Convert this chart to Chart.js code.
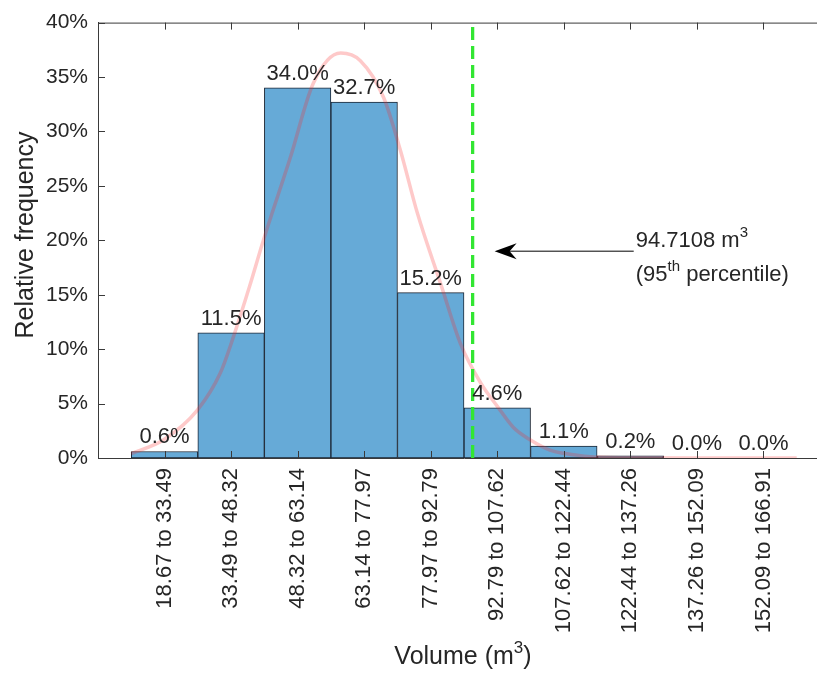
<!DOCTYPE html>
<html>
<head>
<meta charset="utf-8">
<script src="https://cdn.jsdelivr.net/npm/chart.js@4.4.1/dist/chart.umd.min.js"></script>
<style>
  html, body { margin: 0; padding: 0; background: #fff; }
  #wrap { width: 817px; height: 673px; overflow: hidden; position: relative; }
  #box { width: 850px; height: 673px; }
</style>
</head>
<body>
<div id="wrap"><div id="box"><canvas id="chart" width="850" height="673"></canvas></div></div>
<script>
// histogram bins (m3)
const binEdges = [18.67, 33.49, 48.32, 63.14, 77.97, 92.79, 107.62, 122.44, 137.26, 152.09, 166.91];
const binLabels = [
  "18.67 to 33.49", "33.49 to 48.32", "48.32 to 63.14", "63.14 to 77.97", "77.97 to 92.79",
  "92.79 to 107.62", "107.62 to 122.44", "122.44 to 137.26", "137.26 to 152.09", "152.09 to 166.91"
];
const relFreq = [0.6, 11.5, 34.0, 32.7, 15.2, 4.6, 1.1, 0.2, 0.0, 0.0];

// fitted curve (volume, %)
const fitX = [18.67, 25.8, 33.4, 38.5, 41.4, 45.2, 48.1, 54.1, 59.2, 65.3, 69.7, 74.9, 78.6, 82.4, 87.6, 92.0, 96.5, 100.3, 103.8, 107.6, 112.1, 117.2, 121.7, 132.1, 145.5, 166.91];
const fitY = [0.4, 1.65, 4.4, 7.8, 11.1, 16.0, 20.0, 27.6, 34.4, 37.2, 36.5, 33.1, 28.3, 22.5, 16.0, 10.5, 6.9, 4.7, 2.8, 1.65, 0.7, 0.3, 0.1, 0.02, 0.0, 0.0];

const yTicks = [0, 5, 10, 15, 20, 25, 30, 35, 40];
const percentile95 = 94.7108;

const FONT = "'Liberation Sans', Arial, sans-serif";
const TEXT = "#262626";
const AXIS = "#3a3a3a";

const binWidth = (binEdges[binEdges.length - 1] - binEdges[0]) / relFreq.length;
const centers = relFreq.map((_, i) => (binEdges[i] + binEdges[i + 1]) / 2);
const xMin = centers[0] - binWidth;
const xMax = centers[centers.length - 1] + binWidth;

function drawSup(ctx, parts, x, y) {
  // parts: [text, isSup]
  let cx = x;
  parts.forEach(([t, sup]) => {
    ctx.font = (sup ? "15px " : "22px ") + FONT;
    ctx.fillText(t, cx, sup ? y - 10 : y);
    cx += ctx.measureText(t).width;
  });
  return cx;
}

const extras = {
  id: "extras",
  afterDraw(chart) {
    const { ctx, chartArea: a, scales: { x, y } } = chart;
    ctx.save();

    // box + inward ticks
    ctx.strokeStyle = AXIS;
    ctx.lineWidth = 1;
    ctx.beginPath();
    ctx.moveTo(a.left, a.top + 0.5); ctx.lineTo(a.right, a.top + 0.5);
    ctx.moveTo(a.right - 0.5, a.top); ctx.lineTo(a.right - 0.5, a.bottom);
    x.ticks.forEach(t => {
      const px = Math.round(x.getPixelForValue(t.value)) + 0.5;
      ctx.moveTo(px, a.bottom); ctx.lineTo(px, a.bottom - 7);
      ctx.moveTo(px, a.top); ctx.lineTo(px, a.top + 7);
    });
    y.ticks.forEach(t => {
      const py = Math.round(y.getPixelForValue(t.value)) + 0.5;
      ctx.moveTo(a.left, py); ctx.lineTo(a.left + 7, py);
      ctx.moveTo(a.right, py); ctx.lineTo(a.right - 7, py);
    });
    ctx.stroke();

    // bar value labels
    ctx.fillStyle = TEXT;
    ctx.font = "22px " + FONT;
    ctx.textAlign = "center";
    ctx.textBaseline = "alphabetic";
    chart.getDatasetMeta(0).data.forEach((el, i) => {
      ctx.fillText(relFreq[i].toFixed(1) + "%", el.x, el.y - 8);
    });

    // arrow annotation
    const ay = y.getPixelForValue(19.0);
    const tipX = x.getPixelForValue(percentile95) + 22;
    const tailX = x.getPixelForValue(130.6);
    ctx.strokeStyle = "#000";
    ctx.fillStyle = "#000";
    ctx.beginPath();
    ctx.moveTo(tailX, ay); ctx.lineTo(tipX + 10, ay);
    ctx.stroke();
    ctx.beginPath();
    ctx.moveTo(tipX, ay);
    ctx.lineTo(tipX + 22, ay - 8);
    ctx.lineTo(tipX + 15, ay);
    ctx.lineTo(tipX + 22, ay + 8);
    ctx.closePath();
    ctx.fill();

    ctx.fillStyle = TEXT;
    ctx.textAlign = "left";
    const tx = tailX + 2;
    drawSup(ctx, [["94.7108 m", false], ["3", true]], tx, ay - 4);
    drawSup(ctx, [["(95", false], ["th", true], [" percentile)", false]], tx, ay + 30);

    // axis titles
    ctx.font = "25px " + FONT;
    ctx.textAlign = "center";
    ctx.save();
    ctx.translate(33, 235);
    ctx.rotate(-Math.PI / 2);
    ctx.fillText("Relative frequency", 0, 0);
    ctx.restore();

    ctx.font = "25px " + FONT;
    const w1 = ctx.measureText("Volume (m").width;
    ctx.font = "17px " + FONT;
    const w2 = ctx.measureText("3").width;
    ctx.font = "25px " + FONT;
    const w3 = ctx.measureText(")").width;
    let sx = 463 - (w1 + w2 + w3) / 2;
    ctx.textAlign = "left";
    const by = 664;
    ctx.fillText("Volume (m", sx, by); sx += w1;
    ctx.font = "17px " + FONT;
    ctx.fillText("3", sx, by - 11); sx += w2;
    ctx.font = "25px " + FONT;
    ctx.fillText(")", sx, by);

    ctx.restore();
  }
};

new Chart(document.getElementById("chart"), {
  type: "bar",
  data: {
    datasets: [
      {
        type: "bar",
        data: relFreq.map((v, i) => ({ x: centers[i], y: v })),
        backgroundColor: "rgb(102,170,215)",
        borderColor: "rgb(28,38,52)",
        borderWidth: 1,
        borderSkipped: false,
        barPercentage: 1,
        categoryPercentage: 1,
        order: 3
      },
      {
        type: "line",
        data: fitX.map((v, i) => ({ x: v, y: fitY[i] })),
        borderColor: "rgba(250,40,40,0.25)",
        borderWidth: 3.5,
        pointRadius: 0,
        cubicInterpolationMode: "monotone",
        order: 2
      },
      {
        type: "line",
        data: [{ x: percentile95, y: 0 }, { x: percentile95, y: 40 }],
        borderColor: "rgb(50,230,50)",
        borderWidth: 3.3,
        borderDash: [13, 6],
        pointRadius: 0,
        order: 1
      }
    ]
  },
  options: {
    responsive: false,
    animation: false,
    layout: { padding: { top: 22, right: 20, bottom: 0, left: 0 } },
    plugins: { legend: { display: false }, tooltip: { enabled: false } },
    scales: {
      x: {
        type: "linear",
        min: xMin,
        max: xMax,
        offset: false,
        grid: { display: false, drawTicks: false, offset: false },
        border: { display: true, color: AXIS, width: 1 },
        afterBuildTicks: (s) => { s.ticks = centers.map(v => ({ value: v })); },
        afterFit: (s) => { s.height = 215; },
        ticks: {
          autoSkip: false,
          minRotation: 90,
          maxRotation: 90,
          padding: 10,
          color: TEXT,
          font: { family: FONT, size: 22 },
          callback: (v, i) => binLabels[i]
        }
      },
      y: {
        min: 0,
        max: 40,
        grid: { display: false, drawTicks: false },
        border: { display: true, color: AXIS, width: 1 },
        afterBuildTicks: (s) => { s.ticks = yTicks.map(v => ({ value: v })); },
        afterFit: (s) => { s.width = 98; },
        ticks: {
          padding: 10,
          color: TEXT,
          font: { family: FONT, size: 21 },
          callback: (v) => v + "%"
        }
      }
    }
  },
  plugins: [extras]
});
</script>
</body>
</html>
